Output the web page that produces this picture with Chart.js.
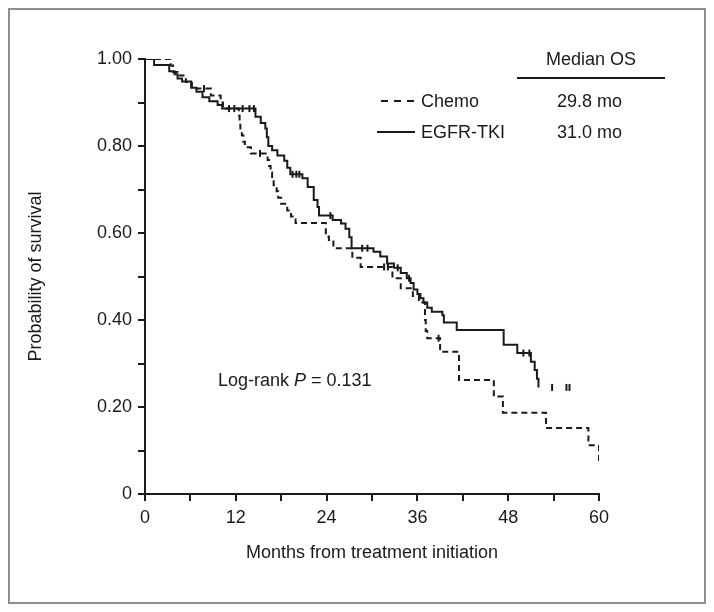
<!DOCTYPE html>
<html>
<head>
<meta charset="utf-8">
<script src="https://cdn.jsdelivr.net/npm/chart.js@4.4.1/dist/chart.umd.min.js"></script>
<style>
  html, body { margin: 0; padding: 0; background: #fff; }
  canvas { display: block; }
</style>
</head>
<body>
<canvas id="km" width="714" height="612"></canvas>
<script>
// Kaplan-Meier steps: month of event, survival after the event
var chemoMonths = [0, 3.4, 3.7, 4.3, 5.4, 6.2, 8.7, 10.0, 10.3, 12.4, 12.5, 12.6, 12.8, 13.0, 13.2, 14.0,
	16.2, 16.4, 16.6, 16.8, 17.0, 17.4, 17.6, 18.0, 18.8, 19.3, 19.9, 23.9, 24.3, 24.9, 27.4, 28.5,
	32.7, 33.8, 35.4, 36.2, 37.0, 37.1, 37.3, 39.0, 41.5, 46.1, 47.3, 53.0, 58.6, 60.0];
var chemoSurv = [1.0, 0.985, 0.97, 0.962, 0.947, 0.932, 0.916, 0.9, 0.886, 0.87, 0.855, 0.84, 0.825, 0.81, 0.797, 0.783,
	0.768, 0.754, 0.739, 0.725, 0.71, 0.696, 0.681, 0.667, 0.652, 0.638, 0.623, 0.592, 0.584, 0.565, 0.543, 0.522,
	0.496, 0.473, 0.455, 0.44, 0.40, 0.375, 0.358, 0.327, 0.262, 0.224, 0.187, 0.152, 0.112, 0.075];
var chemoCensored = [7.8, 11.1, 15.2, 31.6, 32.1, 38.8];

var tkiMonths = [0, 1.2, 3.2, 3.9, 4.3, 4.9, 6.1, 6.8, 7.6, 8.5, 9.6, 10.2, 14.6, 15.3, 15.9, 16.1,
	16.3, 16.8, 17.5, 18.4, 18.8, 19.2, 20.8, 21.5, 22.3, 22.8, 23.0, 24.8, 25.9, 26.5, 27.0, 27.3,
	30.2, 31.1, 32.0, 32.9, 33.8, 34.6, 35.1, 35.5, 36.0, 36.4, 36.8, 37.3, 37.9, 39.3, 39.5, 41.2,
	47.4, 49.2, 51.0, 51.5, 51.8, 52.0];
var tkiSurv = [1.0, 0.986, 0.972, 0.965, 0.955, 0.948, 0.934, 0.925, 0.912, 0.903, 0.894, 0.886, 0.867, 0.853, 0.84, 0.82,
	0.80, 0.79, 0.778, 0.766, 0.75, 0.735, 0.726, 0.706, 0.676, 0.66, 0.64, 0.63, 0.622, 0.61, 0.59, 0.565,
	0.557, 0.546, 0.53, 0.52, 0.508, 0.496, 0.485, 0.47, 0.46, 0.45, 0.44, 0.428, 0.419, 0.411, 0.394, 0.377,
	0.343, 0.324, 0.304, 0.285, 0.265, 0.245];
var tkiCensored = [11.8, 12.9, 13.8, 14.4, 19.5, 20.0, 20.4, 24.5, 28.7, 29.4, 33.4, 34.9, 50.0, 50.8, 53.8, 55.7, 56.1];

var seriesNames = ['Chemo', 'EGFR-TKI'];
var medianOS = ['29.8 mo', '31.0 mo'];
var xTicks = [0, 12, 24, 36, 48, 60];
var yTicks = ['0', '0.20', '0.40', '0.60', '0.80', '1.00'];

var INK = '#1a1a1a';
var FONT = '"Liberation Sans", Arial, Helvetica, sans-serif';

function toPoints(months, surv) {
	var pts = [];
	for (var i = 0; i < months.length; i++) pts.push({x: months[i], y: surv[i]});
	return pts;
}

// censor marks sit on the curve at the month they happen
function censorPoints(months, surv, censored) {
	var pts = [];
	censored.forEach(function(t) {
		var s = surv[0];
		for (var i = 0; i < months.length; i++) {
			if (months[i] <= t) s = surv[i];
		}
		pts.push({x: t, y: s});
	});
	return pts;
}

var framePlugin = {
	id: 'frame',
	beforeDraw: function(chart) {
		var ctx = chart.ctx;
		ctx.save();
		ctx.fillStyle = '#fff';
		ctx.fillRect(0, 0, chart.width, chart.height);
		ctx.strokeStyle = '#8e8e8e';
		ctx.lineWidth = 2;
		ctx.strokeRect(9, 9, 696, 594);
		ctx.restore();
	}
};

var notesPlugin = {
	id: 'notes',
	afterDraw: function(chart) {
		var ctx = chart.ctx;
		ctx.save();
		ctx.fillStyle = INK;
		ctx.strokeStyle = INK;
		ctx.font = '18px ' + FONT;
		ctx.textBaseline = 'middle';

		// median OS header
		ctx.textAlign = 'center';
		ctx.fillText('Median OS', 591, 60);
		ctx.lineWidth = 2;
		ctx.beginPath();
		ctx.moveTo(517, 78);
		ctx.lineTo(665, 78);
		ctx.stroke();

		// legend rows
		var rows = [101, 132];
		ctx.textAlign = 'left';
		for (var i = 0; i < seriesNames.length; i++) {
			ctx.beginPath();
			ctx.setLineDash(i === 0 ? [7, 6] : []);
			ctx.moveTo(i === 0 ? 381 : 377, rows[i]);
			ctx.lineTo(415, rows[i]);
			ctx.stroke();
			ctx.setLineDash([]);
			ctx.fillText(seriesNames[i], 421, rows[i] + 1);
			ctx.fillText(medianOS[i], 557, rows[i] + 1);
		}

		// log-rank
		var x = 218, y = 381;
		var parts = [['Log-rank ', ''], ['P', 'italic '], [' = 0.131', '']];
		parts.forEach(function(p) {
			ctx.font = p[1] + '18px ' + FONT;
			ctx.fillText(p[0], x, y);
			x += ctx.measureText(p[0]).width;
		});
		ctx.restore();
	}
};

var config = {
	type: 'line',
	data: {
		datasets: [{
			label: seriesNames[0],
			data: toPoints(chemoMonths, chemoSurv),
			stepped: true,
			borderColor: INK,
			borderWidth: 2,
			borderDash: [6, 4],
			pointRadius: 0,
			fill: false
		}, {
			label: seriesNames[1],
			data: toPoints(tkiMonths, tkiSurv),
			stepped: true,
			borderColor: INK,
			borderWidth: 2,
			pointRadius: 0,
			fill: false
		}, {
			label: 'Chemo censored',
			data: censorPoints(chemoMonths, chemoSurv, chemoCensored),
			showLine: false,
			pointStyle: 'line',
			rotation: 90,
			pointRadius: 3.5,
			pointBorderWidth: 2,
			borderColor: INK
		}, {
			label: 'EGFR-TKI censored',
			data: censorPoints(tkiMonths, tkiSurv, tkiCensored),
			showLine: false,
			pointStyle: 'line',
			rotation: 90,
			pointRadius: 3.5,
			pointBorderWidth: 2,
			borderColor: INK
		}]
	},
	options: {
		responsive: false,
		animation: false,
		events: [],
		layout: {padding: {left: 0, right: 115, top: 59, bottom: 0}},
		plugins: {legend: {display: false}, tooltip: {enabled: false}},
		scales: {
			x: {
				type: 'linear',
				min: 0,
				max: 60,
				afterFit: function(s) { s.height = 118; },
				ticks: {
					stepSize: 6,
					autoSkip: false,
					maxRotation: 0,
					padding: 6,
					color: INK,
					font: {size: 18, family: FONT},
					callback: function(v) { return xTicks.indexOf(v) >= 0 ? String(v) : ''; }
				},
				grid: {drawOnChartArea: false, tickLength: 7, color: INK, lineWidth: 2},
				border: {color: INK, width: 2},
				title: {
					display: true,
					text: 'Months from treatment initiation',
					color: INK,
					font: {size: 18, family: FONT},
					padding: {top: 0, bottom: 48}
				}
			},
			y: {
				min: 0,
				max: 1,
				afterFit: function(s) { s.width = 145; },
				ticks: {
					stepSize: 0.1,
					autoSkip: false,
					padding: 6,
					color: INK,
					font: {size: 18, family: FONT},
					callback: function(v) {
						var k = Math.round(v * 10);
						return k % 2 === 0 ? yTicks[k / 2] : '';
					}
				},
				grid: {drawOnChartArea: false, tickLength: 7, color: INK, lineWidth: 2},
				border: {color: INK, width: 2},
				title: {
					display: true,
					text: 'Probability of survival',
					color: INK,
					font: {size: 18, family: FONT},
					padding: {top: 25, bottom: 0}
				}
			}
		}
	},
	plugins: [framePlugin, notesPlugin]
};

window.km_chart = new Chart(document.getElementById('km').getContext('2d'), config);
</script>
</body>
</html>
